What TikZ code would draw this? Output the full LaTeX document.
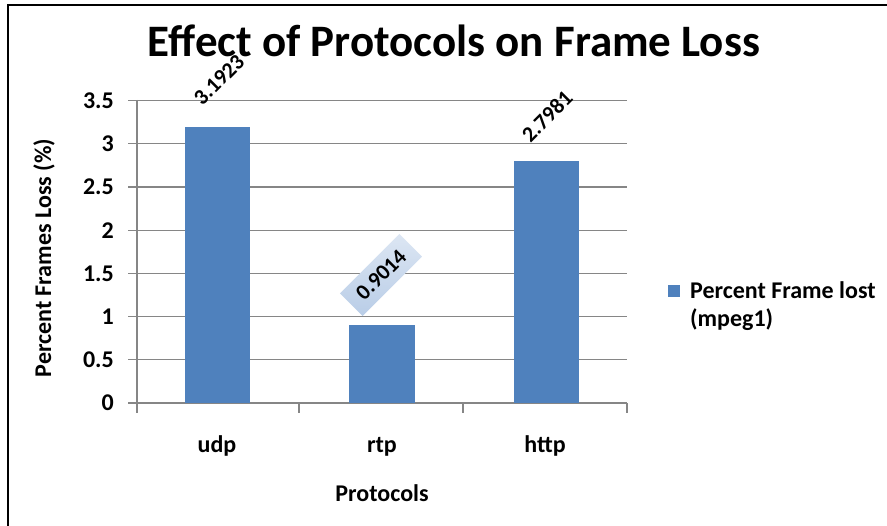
\documentclass[tikz,border=0pt]{standalone}
\usepackage{fontspec}
\setmainfont{Carlito}
\definecolor{barblue}{HTML}{4F81BD}
\definecolor{gridgray}{HTML}{868686}
\definecolor{boxtop}{HTML}{DCE6F3}
\definecolor{boxbot}{HTML}{B9CDE7}
\begin{document}
\begin{tikzpicture}[x=1pt,y=-1pt,
  grid/.style={draw=gridgray,line width=1.1pt},
  bar/.style={fill=barblue},
  ticklab/.style={font=\fontsize{24}{28}\selectfont\bfseries,inner sep=0pt},
  catlab/.style={font=\fontsize{24}{28}\selectfont\bfseries,inner sep=0pt,anchor=base},
  dlabel/.style={font=\fontsize{22}{26}\selectfont\bfseries,inner sep=0pt,rotate=45},
  legtext/.style={font=\fontsize{24}{28}\selectfont\bfseries,inner sep=0pt,anchor=base west}]
\useasboundingbox (0,0) rectangle (887,526);
\fill[white] (0,0) rectangle (887,526);
\draw[line width=2pt] (7.5,526) -- (7.5,5) -- (887,5);
% title
\node[anchor=base,inner sep=0pt] (title) at (454,57)
  {\fontsize{45}{54}\selectfont\bfseries Effect of Protocols on Frame Loss};
% gridlines and value labels
\foreach \v in {0.5,1,1.5,2,2.5,3,3.5}{
  \draw[grid] (128,{403-86.4*\v}) -- (627,{403-86.4*\v});
}
\foreach \v/\t in {0/0,0.5/0.5,1/1,1.5/1.5,2/2,2.5/2.5,3/3,3.5/3.5}{
  \node[ticklab,anchor=east] (tick\t) at (114,{403-86.4*\v}) {\t};
}
% axes
\draw[grid] (137,100) -- (137,413);
\draw[grid] (128,403) -- (627,403);
\foreach \x in {299,463,627}{ \draw[grid] (\x,403) -- (\x,413); }
% bars
\fill[bar] (185,403) rectangle (250,{403-86.4*3.1923});
\fill[bar] (349,403) rectangle (415,{403-86.4*0.9014});
\fill[bar] (514,403) rectangle (579,{403-86.4*2.7981});
% data labels
\node[dlabel] (dudp) at (219,80) {3.1923};
\node[dlabel,top color=boxtop,bottom color=boxbot,minimum width=84pt,minimum height=32pt] (drtp) at (381,275) {0.9014};
\node[dlabel] (dhttp) at (547,116) {2.7981};
% category labels
\node[catlab] (cudp) at (217,453) {udp};
\node[catlab] (crtp) at (382,453) {rtp};
\node[catlab] (chttp) at (545,453) {http};
\node[catlab] (xtitle) at (382,502) {Protocols};
% y axis title
\node[font=\fontsize{24}{28}\selectfont\bfseries,inner sep=0pt,rotate=90] (ytitle) at (44,258) {Percent Frames Loss (\%)};
% legend
\fill[bar] (668,285) rectangle (680,297);
\node[legtext] (leg1) at (690,299) {Percent Frame lost};
\node[legtext] (leg2) at (690,327) {(mpeg1)};
\end{tikzpicture}
\end{document}
